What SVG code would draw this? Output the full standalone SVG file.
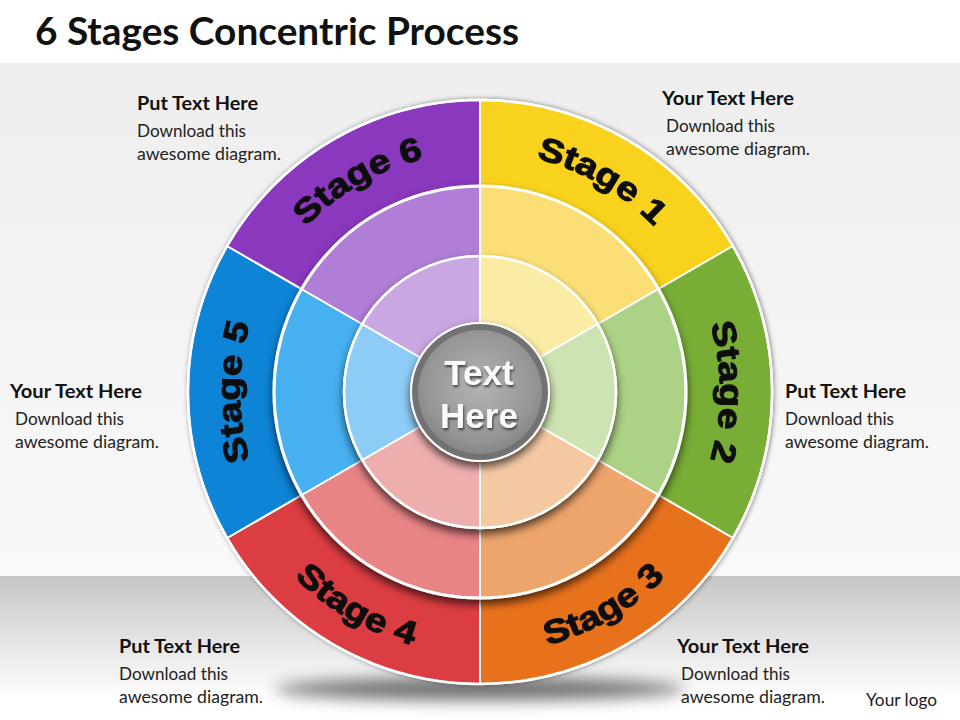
<svg xmlns="http://www.w3.org/2000/svg" xmlns:xlink="http://www.w3.org/1999/xlink" width="960" height="720" viewBox="0 0 960 720">
<defs>
<style>
.title{font-family:Lato,"Liberation Sans",sans-serif;font-weight:bold;font-size:38px;fill:#111;}
.head{font-family:Lato,"Liberation Sans",sans-serif;font-weight:bold;font-size:18px;fill:#111;}
.body{font-family:Lato,"Liberation Sans",sans-serif;font-size:16.5px;fill:#222;}
.stage{font-family:"Liberation Sans",Arial,sans-serif;font-weight:bold;font-size:33px;fill:#111;stroke:#111;stroke-width:1.1px;}
.ctext{font-family:"Liberation Sans",Arial,sans-serif;font-weight:bold;font-size:35px;fill:#fafafa;}
.sep{stroke:#fff;stroke-width:2;stroke-linejoin:round;}
</style>
<linearGradient id="bgMid" x1="0" y1="0" x2="0" y2="1">
<stop offset="0" stop-color="#eeeeee"/>
<stop offset="1" stop-color="#f9f9f9"/>
</linearGradient>
<linearGradient id="bgLow" x1="0" y1="0" x2="0" y2="1">
<stop offset="0" stop-color="#c6c6c6"/>
<stop offset="0.85" stop-color="#ffffff"/>
<stop offset="1" stop-color="#ffffff"/>
</linearGradient>
<radialGradient id="centerGrad" cx="0.5" cy="0.45" r="0.55">
<stop offset="0" stop-color="#b4b4b4"/>
<stop offset="0.8" stop-color="#959595"/>
<stop offset="1" stop-color="#858585"/>
</radialGradient>
<filter id="blurShadow" x="-20%" y="-200%" width="140%" height="500%">
<feGaussianBlur stdDeviation="8"/>
</filter>
<filter id="dsOuter" x="-10%" y="-10%" width="120%" height="120%">
<feDropShadow dx="1" dy="0" stdDeviation="2.5" flood-color="#000" flood-opacity="0.45"/>
</filter>
<filter id="dsRing" x="-15%" y="-15%" width="130%" height="135%">
<feDropShadow dx="0" dy="5" stdDeviation="4" flood-color="#000" flood-opacity="0.65"/>
</filter>
<filter id="dsText" x="-10%" y="-20%" width="130%" height="150%">
<feDropShadow dx="1" dy="2" stdDeviation="1" flood-color="#333" flood-opacity="0.85"/>
</filter>
<path id="arc1" d="M325.73 208.15 A240 240 0 0 1 716.36 433.68"/>
<path id="arc2" d="M562.08 166.47 A240 240 0 0 1 562.08 617.53"/>
<path id="arc3" d="M311.59 592.69 A262 262 0 0 0 738.02 346.50"/>
<path id="arc4" d="M221.98 346.50 A262 262 0 0 0 648.41 592.69"/>
<path id="arc5" d="M397.92 617.53 A240 240 0 0 1 397.92 166.47"/>
<path id="arc6" d="M243.64 433.68 A240 240 0 0 1 634.27 208.15"/>
</defs>

<g id="background">
<rect x="0" y="0" width="960" height="720" fill="#ffffff"/>
<rect x="0" y="63" width="960" height="513" fill="url(#bgMid)"/>
<rect x="0" y="576" width="960" height="144" fill="url(#bgLow)"/>
<ellipse cx="480" cy="689" rx="205" ry="11" fill="#3a3a3a" opacity="0.75" filter="url(#blurShadow)"/>
</g>

<text class="title" x="35" y="45" textLength="484" lengthAdjust="spacingAndGlyphs">6 Stages Concentric Process</text>

<g id="outer-ring" filter="url(#dsOuter)">
<g id="stage1">
<path class="sep" d="M480 392 L480 100 A292 292 0 0 1 732.88 246 Z" fill="#F8D21C"/>
<text class="stage"><textPath xlink:href="#arc1" href="#arc1" startOffset="50%" text-anchor="middle" textLength="138" lengthAdjust="spacingAndGlyphs">Stage 1</textPath></text>
</g>
<g id="stage2">
<path class="sep" d="M480 392 L732.88 246 A292 292 0 0 1 732.88 538 Z" fill="#78AE36"/>
<text class="stage"><textPath xlink:href="#arc2" href="#arc2" startOffset="50%" text-anchor="middle" textLength="138" lengthAdjust="spacingAndGlyphs">Stage 2</textPath></text>
</g>
<g id="stage3">
<path class="sep" d="M480 392 L732.88 538 A292 292 0 0 1 480 684 Z" fill="#E8711B"/>
<text class="stage"><textPath xlink:href="#arc3" href="#arc3" startOffset="50%" text-anchor="middle" textLength="138" lengthAdjust="spacingAndGlyphs">Stage 3</textPath></text>
</g>
<g id="stage4">
<path class="sep" d="M480 392 L480 684 A292 292 0 0 1 227.12 538 Z" fill="#DC3D42"/>
<text class="stage"><textPath xlink:href="#arc4" href="#arc4" startOffset="50%" text-anchor="middle" textLength="138" lengthAdjust="spacingAndGlyphs">Stage 4</textPath></text>
</g>
<g id="stage5">
<path class="sep" d="M480 392 L227.12 538 A292 292 0 0 1 227.12 246 Z" fill="#0E84D6"/>
<text class="stage"><textPath xlink:href="#arc5" href="#arc5" startOffset="50%" text-anchor="middle" textLength="138" lengthAdjust="spacingAndGlyphs">Stage 5</textPath></text>
</g>
<g id="stage6">
<path class="sep" d="M480 392 L227.12 246 A292 292 0 0 1 480 100 Z" fill="#8A37BD"/>
<text class="stage"><textPath xlink:href="#arc6" href="#arc6" startOffset="50%" text-anchor="middle" textLength="138" lengthAdjust="spacingAndGlyphs">Stage 6</textPath></text>
</g>
<circle cx="480" cy="392" r="292" fill="none" stroke="#ffffff" stroke-width="2.5"/>
</g>

<g id="middle-ring" filter="url(#dsRing)">
<path class="sep" d="M480 392 L480 186 A206 206 0 0 1 658.40 289 Z" fill="#FBDF76"/>
<path class="sep" d="M480 392 L658.40 289 A206 206 0 0 1 658.40 495 Z" fill="#ACD285"/>
<path class="sep" d="M480 392 L658.40 495 A206 206 0 0 1 480 598 Z" fill="#EEA56C"/>
<path class="sep" d="M480 392 L480 598 A206 206 0 0 1 301.60 495 Z" fill="#E88486"/>
<path class="sep" d="M480 392 L301.60 495 A206 206 0 0 1 301.60 289 Z" fill="#47B0F0"/>
<path class="sep" d="M480 392 L301.60 289 A206 206 0 0 1 480 186 Z" fill="#B07ED6"/>
<circle cx="480" cy="392" r="206" fill="none" stroke="#ffffff" stroke-width="3"/>
</g>

<g id="inner-ring" filter="url(#dsRing)">
<path class="sep" d="M480 392 L480 256 A136 136 0 0 1 597.78 324 Z" fill="#FAEBA5"/>
<path class="sep" d="M480 392 L597.78 324 A136 136 0 0 1 597.78 460 Z" fill="#CDE3B2"/>
<path class="sep" d="M480 392 L597.78 460 A136 136 0 0 1 480 528 Z" fill="#F4C9A2"/>
<path class="sep" d="M480 392 L480 528 A136 136 0 0 1 362.22 460 Z" fill="#EFAEAE"/>
<path class="sep" d="M480 392 L362.22 460 A136 136 0 0 1 362.22 324 Z" fill="#8DCCF6"/>
<path class="sep" d="M480 392 L362.22 324 A136 136 0 0 1 480 256 Z" fill="#C9A7E2"/>
<circle cx="480" cy="392" r="136" fill="none" stroke="#ffffff" stroke-width="2.5"/>
</g>

<g id="center">
<g filter="url(#dsRing)">
<circle cx="480" cy="392" r="70" fill="#ffffff"/>
<circle cx="480" cy="392" r="68" fill="#727272"/>
<circle cx="480" cy="392" r="62" fill="url(#centerGrad)"/>
</g>
<g filter="url(#dsText)">
<text class="ctext" x="479" y="385" text-anchor="middle">Text</text>
<text class="ctext" x="479" y="428" text-anchor="middle">Here</text>
</g>
</g>

<g id="note-stage6">
<text class="head" x="137" y="110" textLength="121" lengthAdjust="spacingAndGlyphs">Put Text Here</text>
<text class="body" x="137" y="137" textLength="109" lengthAdjust="spacingAndGlyphs">Download this</text>
<text class="body" x="137" y="160" textLength="144" lengthAdjust="spacingAndGlyphs">awesome diagram.</text>
</g>
<g id="note-stage1">
<text class="head" x="662" y="105" textLength="132" lengthAdjust="spacingAndGlyphs">Your Text Here</text>
<text class="body" x="666" y="132" textLength="109" lengthAdjust="spacingAndGlyphs">Download this</text>
<text class="body" x="666" y="155" textLength="144" lengthAdjust="spacingAndGlyphs">awesome diagram.</text>
</g>
<g id="note-stage5">
<text class="head" x="10" y="398" textLength="132" lengthAdjust="spacingAndGlyphs">Your Text Here</text>
<text class="body" x="15" y="425" textLength="109" lengthAdjust="spacingAndGlyphs">Download this</text>
<text class="body" x="15" y="448" textLength="144" lengthAdjust="spacingAndGlyphs">awesome diagram.</text>
</g>
<g id="note-stage2">
<text class="head" x="785" y="398" textLength="121" lengthAdjust="spacingAndGlyphs">Put Text Here</text>
<text class="body" x="785" y="425" textLength="109" lengthAdjust="spacingAndGlyphs">Download this</text>
<text class="body" x="785" y="448" textLength="144" lengthAdjust="spacingAndGlyphs">awesome diagram.</text>
</g>
<g id="note-stage4">
<text class="head" x="119" y="653" textLength="121" lengthAdjust="spacingAndGlyphs">Put Text Here</text>
<text class="body" x="119" y="680" textLength="109" lengthAdjust="spacingAndGlyphs">Download this</text>
<text class="body" x="119" y="703" textLength="144" lengthAdjust="spacingAndGlyphs">awesome diagram.</text>
</g>
<g id="note-stage3">
<text class="head" x="677" y="653" textLength="132" lengthAdjust="spacingAndGlyphs">Your Text Here</text>
<text class="body" x="681" y="680" textLength="109" lengthAdjust="spacingAndGlyphs">Download this</text>
<text class="body" x="681" y="703" textLength="144" lengthAdjust="spacingAndGlyphs">awesome diagram.</text>
</g>
<text class="body" x="866" y="706" textLength="71" lengthAdjust="spacingAndGlyphs">Your logo</text>
</svg>
